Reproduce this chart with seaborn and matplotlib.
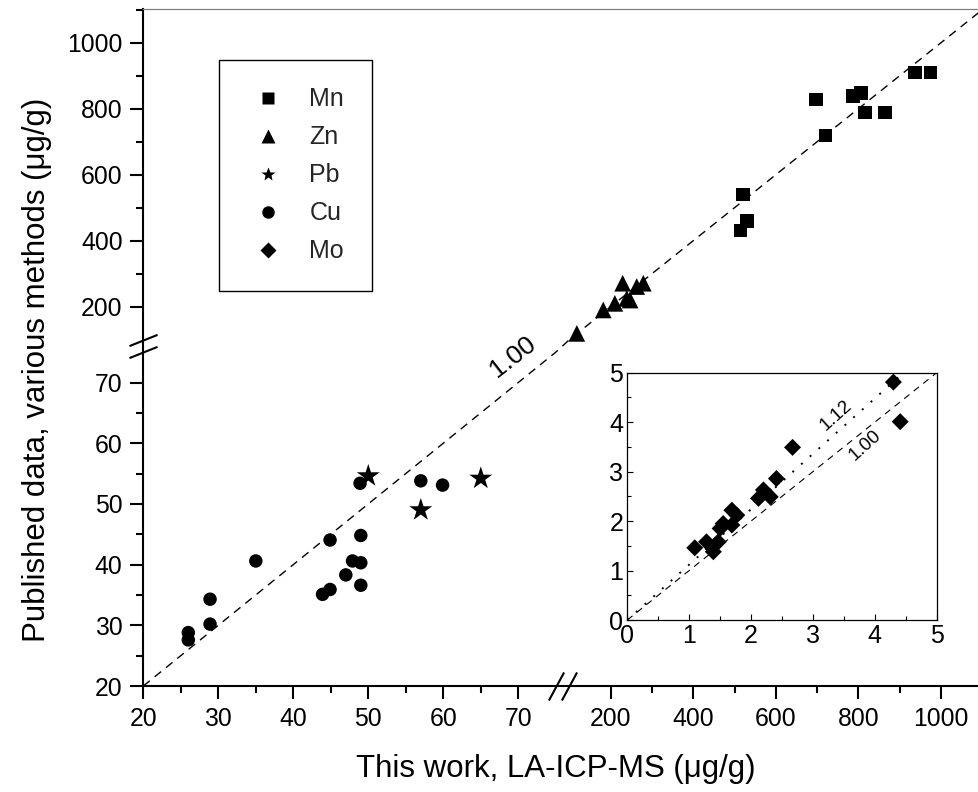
import numpy as np
import pandas as pd
import matplotlib
matplotlib.use("Agg")
import matplotlib.pyplot as plt
from matplotlib.lines import Line2D
import seaborn as sns

sns.set_theme(style="white")
plt.rcParams["font.family"] = ["Liberation Sans", "DejaVu Sans"]

# ---------------- data ----------------
mn_x = [697, 787, 806, 816, 864, 720, 937, 975, 520, 515, 530]
mn_y = [828, 838, 847, 788, 788, 718, 909, 909, 540, 430, 460]
zn_x = [118, 182, 210, 229, 239, 247, 263, 279]
zn_y = [119, 190, 210, 271, 225, 220, 261, 271]
pb_x = [50, 57, 65]
pb_y = [54.6, 49.0, 54.2]
cu_x = [26.0, 26.0, 28.9, 28.9, 35.0, 43.9, 44.9, 44.9, 47.0, 47.9, 49.0, 49.0, 49.0, 48.9, 57.0, 59.9]
cu_y = [28.8, 27.6, 34.3, 30.2, 40.6, 35.1, 35.9, 44.05, 38.3, 40.6, 40.3, 36.6, 44.8, 53.4, 53.8, 53.1]
mo_x = [1.09, 1.28, 1.39, 1.47, 1.50, 1.55, 1.69, 1.69, 1.77, 2.12, 2.20, 2.31, 2.41, 2.67, 4.30, 4.41]
mo_y = [1.46, 1.58, 1.38, 1.58, 1.85, 1.95, 1.92, 2.22, 2.12, 2.46, 2.63, 2.49, 2.86, 3.49, 4.81, 4.01]

ratio_main = 1.00
ratio_fit = 1.12
line_main_x = [20, 75, 100, 1100]
inset_line_x = [0, 5]
inset_fit_x = [0, 4.4]

x_major = [20, 30, 40, 50, 60, 70, 200, 400, 600, 800, 1000]
x_minor = [25, 35, 45, 55, 65, 300, 500, 700, 900, 1100]
y_major = [20, 30, 40, 50, 60, 70, 200, 400, 600, 800, 1000]
y_minor = [25, 35, 45, 55, 65, 300, 500, 700, 900, 1100]
x_breaks = [75, 100]
y_breaks = [75, 100]

legend_labels = ["Mn", "Zn", "Pb", "Cu", "Mo"]


def piecewise(src, dst):
    src = np.asarray(src, float)
    dst = np.asarray(dst, float)

    def f(v):
        v = np.asarray(v, float)
        flat = np.atleast_1d(v).astype(float).ravel()
        out = np.interp(flat, src, dst)
        lo = flat < src[0]
        out[lo] = dst[0] + (flat[lo] - src[0]) * (dst[1] - dst[0]) / (src[1] - src[0])
        hi = flat > src[-1]
        out[hi] = dst[-1] + (flat[hi] - src[-1]) * (dst[-1] - dst[-2]) / (src[-1] - src[-2])
        return out.reshape(v.shape)
    return f


xs_d, xs_p = [20, 75, 100, 1100], [0, 412.5, 426.1, 839.1]
ys_d, ys_p = [20, 75, 100, 1100], [0, 333.8, 346.3, 676.3]

W, H = 979, 792
fig = plt.figure(figsize=(W / 100, H / 100), dpi=100)
ax = fig.add_axes([143.3 / W, 1 - 686 / H, 839.1 / W, 676.7 / H])

sns.scatterplot(x=cu_x, y=cu_y, marker="o", s=94, color="black", edgecolor="none", linewidth=0, ax=ax, legend=False, zorder=3)
sns.scatterplot(x=pb_x, y=pb_y, marker="*", s=300, color="black", edgecolor="none", linewidth=0, ax=ax, legend=False, zorder=3)
sns.scatterplot(x=zn_x, y=zn_y, marker="^", s=144, color="black", edgecolor="none", linewidth=0, ax=ax, legend=False, zorder=3)
sns.scatterplot(x=mn_x, y=mn_y, marker="s", s=92, color="black", edgecolor="none", linewidth=0, ax=ax, legend=False, zorder=3)

lx = np.array(line_main_x, float)
ax.plot(lx, ratio_main * lx, color="black", lw=1.0, ls=(0, (6, 4.5)), zorder=2)

ax.set_xscale("function", functions=(piecewise(xs_d, xs_p), piecewise(xs_p, xs_d)))
ax.set_yscale("function", functions=(piecewise(ys_d, ys_p), piecewise(ys_p, ys_d)))
ax.set_xlim(20, 1100)
ax.set_ylim(20, 1101)
ax.set_xticks(x_major)
ax.set_xticks(x_minor, minor=True)
ax.set_yticks(y_major)
ax.set_yticks(y_minor, minor=True)
ax.set_xticklabels([str(v) for v in x_major])
ax.set_yticklabels([str(v) for v in y_major])
ax.tick_params(which="both", direction="out", bottom=True, left=True, top=False, right=False,
               color="black", width=1.5)
ax.tick_params(which="major", length=9.4, labelsize=17.8, pad=5.5, labelcolor="black")
ax.tick_params(which="minor", length=5)
ax.grid(False)
ax.set_facecolor("white")
for s in ["left", "bottom"]:
    ax.spines[s].set_color("black")
    ax.spines[s].set_linewidth(1.5)
ax.spines["top"].set_color("#808080")
ax.spines["top"].set_linewidth(0.9)
ax.spines["right"].set_visible(False)

# axis break marks
ax.plot(x_breaks, [20, 20], ls="none", marker=[(-0.27, -0.5), (0.27, 0.5)], ms=20.2,
        mew=1.5, mec="black", mfc="none", clip_on=False, zorder=6)
ax.plot([20, 20], y_breaks, ls="none", marker=[(-0.5, -0.2), (0.5, 0.2)], ms=20.2,
        mew=1.5, mec="black", mfc="none", clip_on=False, zorder=6)

ax.text(69.3, 74.3, "1.00", rotation=38, ha="center", va="center", fontsize=19, color="black")

ax.set_xlabel("")
ax.set_ylabel("")
fig.text(556 / W, 1 - 777 / H, "This work, LA-ICP-MS (\u03bcg/g)", ha="center", va="baseline",
         fontsize=22.5, color="black")
fig.text(45 / W, 1 - 370 / H, "Published data, various methods (\u03bcg/g)", rotation=90,
         rotation_mode="anchor", ha="center", va="baseline", fontsize=22.5, color="black")

# legend
handles = [
    Line2D([], [], ls="none", marker="s", ms=8.8, color="black", mec="none", label=legend_labels[0]),
    Line2D([], [], ls="none", marker="^", ms=10, color="black", mec="none", label=legend_labels[1]),
    Line2D([], [], ls="none", marker="*", ms=10, color="black", mec="none", label=legend_labels[2]),
    Line2D([], [], ls="none", marker="o", ms=9, color="black", mec="none", label=legend_labels[3]),
    Line2D([], [], ls="none", marker="D", ms=8.5, color="black", mec="none", label=legend_labels[4]),
]
leg = ax.legend(handles=handles, loc="upper left", bbox_to_anchor=(219.3 / W, 1 - 60 / H),
                bbox_transform=fig.transFigure, borderaxespad=0, fontsize=18,
                borderpad=1.1, handlelength=1.7, handletextpad=0.8, labelspacing=0.56,
                fancybox=False, framealpha=1, edgecolor="black")
leg.get_frame().set_linewidth(1.0)

# inset
axin = fig.add_axes([627.3 / W, 1 - 620 / H, 309.4 / W, 247.3 / H])
ix = np.array(inset_line_x, float)
axin.plot(ix, ratio_main * ix, color="black", lw=0.8, ls=(0, (6, 5)), zorder=2)
fx = np.array(inset_fit_x, float)
axin.plot(fx, ratio_fit * fx, color="black", lw=1.4, ls=(0, (1, 5)), zorder=2)
sns.scatterplot(x=mo_x, y=mo_y, marker="D", s=75, color="black", edgecolor="none", linewidth=0,
                ax=axin, legend=False, zorder=3)
axin.set_xlim(0, 5)
axin.set_ylim(0, 5)
axin.set_xticks(range(6))
axin.set_yticks(range(6))
axin.set_xticks(np.arange(0.5, 5, 1.0), minor=True)
axin.set_yticks(np.arange(0.5, 5, 1.0), minor=True)
axin.tick_params(which="both", direction="in", bottom=True, left=True, top=False, right=False,
                 color="black", width=0.8)
axin.tick_params(which="major", length=4, labelsize=18, pad=3, labelcolor="black")
axin.tick_params(which="minor", length=3)
axin.grid(False)
axin.set_facecolor("white")
for s in axin.spines.values():
    s.set_color("black")
    s.set_linewidth(0.9)
axin.set_xlabel("")
axin.set_ylabel("")
axin.text(3.38, 4.14, "1.12", rotation=42, ha="center", va="center", fontsize=13.5, color="black")
axin.text(3.84, 3.52, "1.00", rotation=42, ha="center", va="center", fontsize=13.5, color="black")

fig.savefig("out.png", dpi=100, facecolor="white")
